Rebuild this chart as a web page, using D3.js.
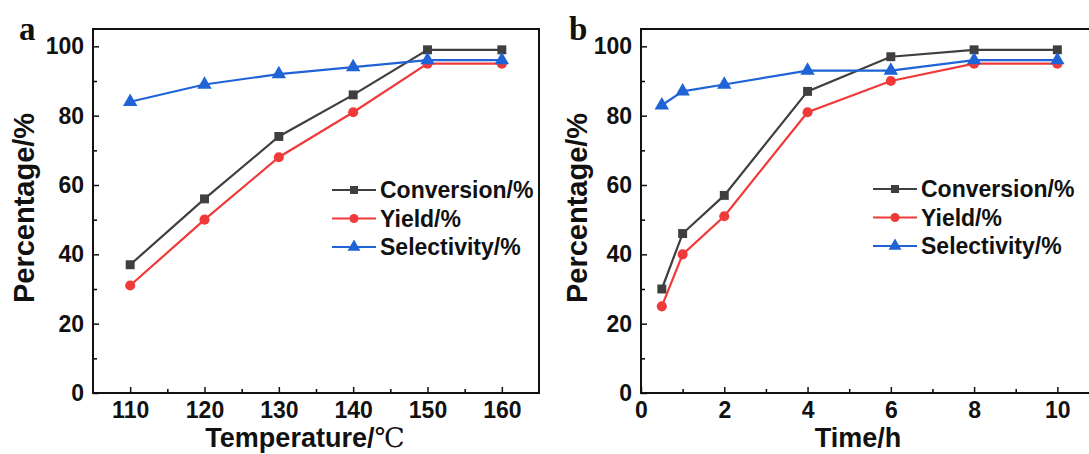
<!DOCTYPE html>
<html>
<head>
<meta charset="utf-8">
<script src="https://cdn.jsdelivr.net/npm/d3@7"></script>
<style>
  html, body { margin: 0; padding: 0; background: #fff; }
  svg { display: block; }
  text { font-family: "Liberation Sans", Arial, sans-serif; font-weight: bold; fill: #111; }
</style>
</head>
<body>
<svg id="fig" width="1089" height="454"></svg>
<script>
// ---- data ----
var seriesNames = ["Conversion/%", "Yield/%", "Selectivity/%"];
var yTicks = [0, 20, 40, 60, 80, 100];

// panel a: temperature
var tempX = [110, 120, 130, 140, 150, 160];
var tempConversion = [37, 56, 74, 86, 99, 99];
var tempYield = [31, 50, 68, 81, 95, 95];
var tempSelectivity = [84, 89, 92, 94, 96, 96];
var tempTicks = [110, 120, 130, 140, 150, 160];

// panel b: time
var timeX = [0.5, 1, 2, 4, 6, 8, 10];
var timeConversion = [30, 46, 57, 87, 97, 99, 99];
var timeYield = [25, 40, 51, 81, 90, 95, 95];
var timeSelectivity = [83, 87, 89, 93, 93, 96, 96];
var timeTicks = [0, 2, 4, 6, 8, 10];

var colors = ["#3f3f3f", "#f03a3a", "#1f63d6"];
var shapes = [d3.symbolSquare, d3.symbolCircle, d3.symbolTriangle];
var sizes = [80, 80, 90];

var svg = d3.select("#fig");

function drawPanel(o) {
    var x = d3.scaleLinear().domain(o.xDomain).range([o.left, o.right]);
    var y = d3.scaleLinear().domain([0, 105]).range([393, 29]);

    var g = svg.append("g");

    // minor ticks (no labels)
    g.append("g")
        .attr("transform", "translate(0,393)")
        .call(d3.axisBottom(x).tickValues(o.xMinor).tickSizeInner(-4).tickSizeOuter(0).tickFormat(""))
        .call(function (s) { s.select(".domain").remove(); s.selectAll("line").attr("stroke-width", 1.5); });
    g.append("g")
        .attr("transform", "translate(" + o.left + ",0)")
        .call(d3.axisLeft(y).tickValues([10, 30, 50, 70, 90]).tickSizeInner(-4).tickSizeOuter(0).tickFormat(""))
        .call(function (s) { s.select(".domain").remove(); s.selectAll("line").attr("stroke-width", 1.5); });

    // major axes
    var xa = g.append("g")
        .attr("transform", "translate(0,393)")
        .call(d3.axisBottom(x).tickValues(o.xTicks).tickSizeInner(-6).tickSizeOuter(0).tickPadding(8));
    var ya = g.append("g")
        .attr("transform", "translate(" + o.left + ",0)")
        .call(d3.axisLeft(y).tickValues(yTicks).tickSizeInner(-6).tickSizeOuter(0).tickPadding(9));
    [xa, ya].forEach(function (a) {
        a.select(".domain").remove();
        a.selectAll("line").attr("stroke", "#111").attr("stroke-width", 1.5);
        a.selectAll("text").style("font-size", "23px").style("font-weight", "bold")
            .style("font-family", "'Liberation Sans', Arial, sans-serif").attr("fill", "#111");
    });
    xa.selectAll("text").attr("dy", "0.72em");

    // frame
    g.append("rect")
        .attr("x", o.left).attr("y", 29)
        .attr("width", o.right - o.left).attr("height", 393 - 29)
        .attr("fill", "none").attr("stroke", "#111").attr("stroke-width", 2);

    // series
    var line = d3.line().x(function (d) { return x(d[0]); }).y(function (d) { return y(d[1]); });
    o.series.forEach(function (vals, i) {
        var pts = o.xs.map(function (v, k) { return [v, vals[k]]; });
        g.append("path").datum(pts)
            .attr("d", line).attr("fill", "none")
            .attr("stroke", colors[i]).attr("stroke-width", 2.2);
        g.selectAll(".m" + i).data(pts).enter().append("path")
            .attr("d", d3.symbol().type(shapes[i]).size(sizes[i]))
            .attr("transform", function (d) { return "translate(" + x(d[0]) + "," + y(d[1]) + ")"; })
            .attr("fill", colors[i]);
    });

    // legend
    seriesNames.forEach(function (name, i) {
        var ly = o.legY + i * 28.5;
        g.append("line")
            .attr("x1", o.legX).attr("x2", o.legX + 44)
            .attr("y1", ly).attr("y2", ly)
            .attr("stroke", colors[i]).attr("stroke-width", 2.2);
        g.append("path")
            .attr("d", d3.symbol().type(shapes[i]).size(sizes[i] * 0.8))
            .attr("transform", "translate(" + (o.legX + 22) + "," + ly + ")")
            .attr("fill", colors[i]);
        g.append("text")
            .attr("x", o.legX + 48).attr("y", ly).attr("dy", "0.36em")
            .style("font-size", "23px")
            .text(name);
    });

    // axis titles
    g.append("text")
        .attr("transform", "translate(" + o.yTitleX + ",208) rotate(-90)")
        .attr("text-anchor", "middle")
        .style("font-size", "29px")
        .text("Percentage/%");
    var xt = g.append("text")
        .attr("x", o.xTitleX).attr("y", 447)
        .attr("text-anchor", "middle")
        .style("font-size", "27px");
    xt.append("tspan").text(o.xTitle);
    if (o.xUnit) {
        xt.append("tspan").text(o.xUnit)
            .style("font-family", "'Liberation Serif', 'DejaVu Serif', serif")
            .style("font-weight", "normal");
    }

    // panel letter
    g.append("text")
        .attr("x", o.letterX).attr("y", 40)
        .style("font-family", "'Liberation Serif', 'Times New Roman', serif")
        .style("font-size", "33px")
        .text(o.letter);
}

drawPanel({
    letter: "a", letterX: 19,
    left: 93, right: 539, xDomain: [105, 165],
    xs: tempX, series: [tempConversion, tempYield, tempSelectivity],
    xTicks: tempTicks, xMinor: [115, 125, 135, 145, 155],
    legX: 332, legY: 190,
    yTitleX: 34, xTitleX: 305, xTitle: "Temperature/", xUnit: "\u2103"
});

drawPanel({
    letter: "b", letterX: 569,
    left: 641, right: 1099, xDomain: [0, 11],
    xs: timeX, series: [timeConversion, timeYield, timeSelectivity],
    xTicks: timeTicks, xMinor: [1, 3, 5, 7, 9],
    legX: 873, legY: 189,
    yTitleX: 587, xTitleX: 858, xTitle: "Time/h", xUnit: null
});
</script>
</body>
</html>
